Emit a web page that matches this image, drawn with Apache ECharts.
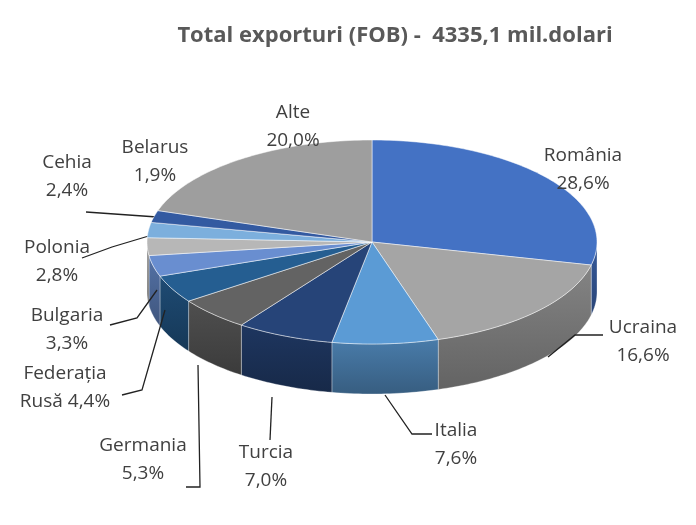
<!DOCTYPE html>
<html>
<head>
<meta charset="utf-8">
<script src="https://cdn.jsdelivr.net/npm/echarts@6/dist/echarts.min.js"></script>
<style>html,body{margin:0;background:#fff}#chart{width:696px;height:525px}</style>
</head>
<body>
<div id="chart"></div>
<script>
// slices, clockwise from 12 o'clock
var countries = ['România', 'Ucraina', 'Italia', 'Turcia', 'Germania', 'Federația\nRusă', 'Bulgaria', 'Polonia', 'Cehia', 'Belarus', 'Alte'];
var shares = [28.6, 16.6, 7.6, 7.0, 5.3, 4.4, 3.3, 2.8, 2.4, 1.9, 20.0];
var colors = ['#4472C4', '#A5A5A5', '#5B9BD5', '#264478', '#636363', '#255E91', '#698ED0', '#B7B7B7', '#7CAFDD', '#335AA1', '#9E9E9E'];

// layout
var cx = 372, cy = 242, rx = 225, ry = 102, depth = 50;
var labelPos = [[583, 170], [643, 342], [456, 445], [266, 467], [143, 460], [65, 388], [67, 330], [57, 262], [67, 177], [155, 162], [293, 127]];
var leaders = [null,
  [[548, 357], [575, 335], [603, 335]],
  [[385, 395], [412, 434], [432, 434]],
  [[272, 397], [270, 440]],
  [[198, 365], [200, 487], [186, 487]],
  [[165, 310], [142, 390], [122, 395]],
  [[157, 290], [137, 318], [110, 325]],
  [[152, 235], [112, 247], [82, 258]],
  [[157, 217], [86, 212]],
  null, null];

var total = shares.reduce(function (a, b) { return a + b; }, 0);
var angles = [], acc = 0;
shares.forEach(function (v) {
  var a = acc / total * Math.PI * 2;
  acc += v;
  angles.push([a, acc / total * Math.PI * 2]);
});
function pt(t, dy) { return [cx + rx * Math.sin(t), cy - ry * Math.cos(t) + dy]; }
function arc(a, b, dy) {
  var pts = [], n = Math.max(2, Math.ceil((b - a) / 0.02));
  for (var k = 0; k <= n; k++) pts.push(pt(a + (b - a) * k / n, dy));
  return pts;
}
function darken(hex, f) {
  var c = parseInt(hex.slice(1), 16);
  var r = Math.round((c >> 16) * f), g = Math.round(((c >> 8) & 255) * f), b = Math.round((c & 255) * f);
  return 'rgb(' + r + ',' + g + ',' + b + ')';
}

function renderWall(params, api) {
  var i = params.dataIndex, a = Math.max(angles[i][0], Math.PI / 2), b = Math.min(angles[i][1], Math.PI * 1.5);
  if (b <= a) return;
  var top = arc(a, b, 0), bot = arc(a, b, depth).reverse();
  return {
    type: 'polygon',
    shape: { points: top.concat(bot) },
    style: {
      fill: new echarts.graphic.LinearGradient(0, 0, 0, 1, [
        { offset: 0, color: darken(colors[i], 0.8) }, { offset: 1, color: darken(colors[i], 0.6) }
      ]),
      stroke: 'rgba(255,255,255,0.3)', lineWidth: 1
    }
  };
}

function renderTop(params, api) {
  var i = params.dataIndex;
  var children = [{
    type: 'polygon',
    shape: { points: [[cx, cy]].concat(arc(angles[i][0], angles[i][1], 0)) },
    style: { fill: colors[i], stroke: 'rgba(255,255,255,0.5)', lineWidth: 1 }
  }, {
    type: 'text',
    x: labelPos[i][0], y: labelPos[i][1],
    style: {
      text: countries[i] + (countries[i].indexOf('\n') >= 0 ? ' ' : '\n') + shares[i].toFixed(1).replace('.', ',') + '%',
      fill: '#404040', font: '19px "Open Sans", sans-serif', align: 'center', verticalAlign: 'middle', lineHeight: 28
    }
  }];
  if (leaders[i]) children.push({
    type: 'polyline', shape: { points: leaders[i] },
    style: { stroke: '#222', lineWidth: 1.3, fill: null }
  });
  return { type: 'group', children: children };
}

var chart = echarts.init(document.getElementById('chart'));
chart.setOption({
  animation: false,
  title: {
    text: 'Total exporturi (FOB) -  4335,1 mil.dolari', left: 390, top: 20, textAlign: 'center',
    textStyle: { fontSize: 22, fontWeight: 'bold', color: '#595959', fontFamily: '"Open Sans", sans-serif' }
  },
  series: [
    { type: 'custom', coordinateSystem: 'none', data: shares, renderItem: renderWall, z: 1 },
    { type: 'custom', coordinateSystem: 'none', data: shares, renderItem: renderTop, z: 2 }
  ]
});
</script>
</body>
</html>
